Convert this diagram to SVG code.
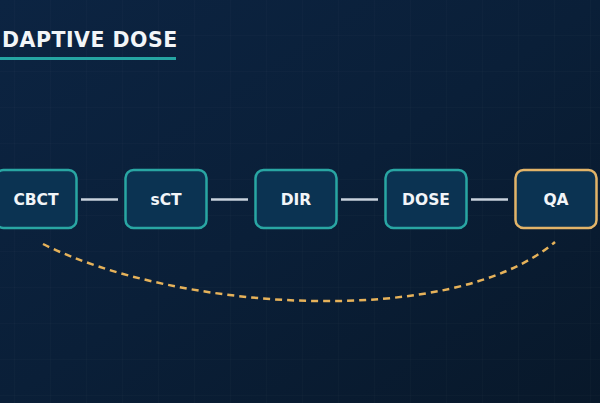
<svg xmlns="http://www.w3.org/2000/svg" width="600" height="403" viewBox="0 0 600 403">
  <defs>
    <linearGradient id="bg" x1="0" y1="0" x2="1" y2="1">
      <stop offset="0" stop-color="#0c2442"/>
      <stop offset="0.5" stop-color="#0a1f38"/>
      <stop offset="1" stop-color="#08182a"/>
    </linearGradient>
    <pattern id="grid" x="14" y="35" width="36" height="36" patternUnits="userSpaceOnUse">
      <path d="M0 0 H36 M0 0 V36" fill="none" stroke="#ffffff" stroke-opacity="0.03" stroke-width="1"/>
    </pattern>
    <style>
      .box { fill: #0b3352; stroke: #29a6a3; stroke-width: 2.5; }
      .qa { stroke: #e2b469; }
      .lbl { font-family: "DejaVu Sans", "Liberation Sans", sans-serif; font-weight: bold; font-size: 15.5px; fill: #f2f5f8; text-anchor: middle; }
      .link { stroke: #c9d2dd; stroke-width: 2.5; }
    </style>
  </defs>
  <rect width="600" height="403" fill="url(#bg)"/>
  <rect width="600" height="403" fill="url(#grid)"/>

  <g id="title">
    <text x="2" y="47" font-family="DejaVu Sans, Liberation Sans, sans-serif" font-weight="bold" font-size="20.5" letter-spacing="0.5" fill="#f2f5f8">DAPTIVE DOSE</text>
    <rect x="0" y="57" width="176" height="3" fill="#25a5a3"/>
  </g>

  <g id="connectors">
    <line class="link" x1="81" y1="199.5" x2="118" y2="199.5"/>
    <line class="link" x1="211" y1="199.5" x2="248" y2="199.5"/>
    <line class="link" x1="341" y1="199.5" x2="378" y2="199.5"/>
    <line class="link" x1="471" y1="199.5" x2="508" y2="199.5"/>
    <path d="M43 244 C176 310.5 451 330 555 242" fill="none" stroke="#e6b25a" stroke-width="2.5" stroke-dasharray="7 5"/>
  </g>

  <g id="node-cbct">
    <rect class="box" x="-4.5" y="170" width="81" height="58" rx="8"/>
    <text class="lbl" x="36" y="205">CBCT</text>
  </g>
  <g id="node-sct">
    <rect class="box" x="125.5" y="170" width="81" height="58" rx="8"/>
    <text class="lbl" x="166" y="205">sCT</text>
  </g>
  <g id="node-dir">
    <rect class="box" x="255.5" y="170" width="81" height="58" rx="8"/>
    <text class="lbl" x="296" y="205">DIR</text>
  </g>
  <g id="node-dose">
    <rect class="box" x="385.5" y="170" width="81" height="58" rx="8"/>
    <text class="lbl" x="426" y="205">DOSE</text>
  </g>
  <g id="node-qa">
    <rect class="box qa" x="515.5" y="170" width="81" height="58" rx="8"/>
    <text class="lbl" x="556" y="205">QA</text>
  </g>
</svg>
